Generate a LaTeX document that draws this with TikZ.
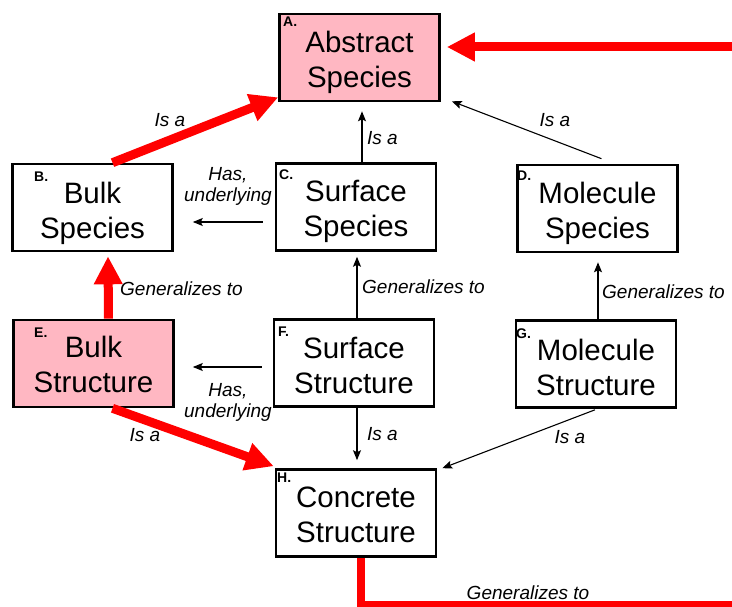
\documentclass[tikz,border=0pt]{standalone}
\usepackage{fontspec}
\setmainfont{Liberation Sans}
\usetikzlibrary{arrows.meta}
\definecolor{pinkc}{RGB}{255,183,194}
\definecolor{redc}{RGB}{255,0,0}
% two centred lines; the first argument pushes them down by half its value
\newcommand\twolines[3]{\raisebox{0pt}[\dimexpr\height+#1\relax]{%
  \begin{tabular}{@{}c@{}}#2\\#3\end{tabular}}}
\begin{document}
\begin{tikzpicture}[x=1pt,y=-1pt,
  box/.style={draw=black, line width=2.6pt, minimum width=160pt, minimum height=87pt,
    inner sep=0pt, font=\fontsize{29.5}{35}\selectfont},
  pinkbox/.style={box, fill=pinkc},
  tag/.style={font=\fontsize{14}{14}\selectfont\bfseries, inner sep=0pt, anchor=west},
  lbl/.style={font=\fontsize{19}{21}\selectfont\itshape, inner sep=0pt, align=center},
  thinarrow/.style={draw=black, line width=1.1pt, -{Stealth[length=10pt,width=8pt,inset=2pt]}},
  redarrow/.style={draw=redc, line width=9pt, -{Triangle[length=28pt,width=27pt]}},
  redline/.style={draw=redc, line width=8.5pt},
]
\useasboundingbox (0,0) rectangle (732,607);
\clip (0,0) rectangle (732,607);

% concept boxes
\node[pinkbox] (A) at (359.5,57.5) {\twolines{11pt}{Abstract}{Species}};
\node[box]     (B) at (92.5,207.5) {\twolines{14pt}{Bulk}{Species}};
\node[box]     (C) at (356,207)    {\twolines{10pt}{Surface}{Species}};
\node[box]     (D) at (597.5,208.5){\twolines{12pt}{Molecule}{Species}};
\node[pinkbox] (E) at (93.5,363.5) {\twolines{8pt}{Bulk}{Structure}};
\node[box]     (F) at (354,363)    {\twolines{11pt}{Surface}{Structure}};
\node[box]     (G) at (596,364)    {\twolines{14pt}{Molecule}{Structure}};
\node[box]     (H) at (356,513)    {\twolines{10pt}{Concrete}{Structure}};

% corner letters
\node[tag] (tA) at (283,22)  {A.};
\node[tag] (tB) at (34,177)  {B.};
\node[tag] (tC) at (279,175) {C.};
\node[tag] (tD) at (517,176) {D.};
\node[tag] (tE) at (34,333)  {E.};
\node[tag] (tF) at (278,332) {F.};
\node[tag] (tG) at (516,334) {G.};
\node[tag] (tH) at (277,478) {H.};

% free ends on the right-hand side
\coordinate (rin)  at (760,47);
\coordinate (hout) at (760,605);

% red links
\draw[redarrow] ([xshift=20pt]B.north) -- ([yshift=5pt]A.south west);
\draw[redarrow] (rin) -- ([shift={(6pt,10.5pt)}]A.east);
\draw[redarrow] ([xshift=15pt]E.north) -- ([shift={(15.5pt,-4pt)}]B.south);
\draw[redarrow] ([xshift=19pt]E.south) -- ([shift={(-1pt,2pt)}]H.north west);
\draw[redline] ([xshift=5pt]H.south) |- (hout);

% black links
\draw[thinarrow] ([xshift=6pt]C.north) -- ([xshift=2.5pt,yshift=-9pt]A.south);
\draw[thinarrow] ([shift={(4pt,5pt)}]D.north) -- ([shift={(11pt,1pt)}]A.south east);
\draw[thinarrow] ([shift={(-12pt,-15pt)}]C.west) -- ([shift={(19pt,-14.5pt)}]B.east);
\draw[thinarrow] ([xshift=3pt]F.north) -- ([shift={(1pt,-5pt)}]C.south);
\draw[thinarrow] ([xshift=2pt]G.north) -- ([shift={(0.5pt,-9pt)}]D.south);
\draw[thinarrow] ([shift={(-11pt,-4pt)}]F.west) -- ([shift={(18pt,-3.5pt)}]E.east);
\draw[thinarrow] ([xshift=3pt]F.south) -- ([shift={(1pt,8pt)}]H.north);
\draw[thinarrow] ([shift={(-1pt,-1pt)}]G.south) -- ([shift={(5pt,0pt)}]H.north east);

% link labels
\node[lbl] (l1) at (170,120) {Is a};
\node[lbl, anchor=west] (l2) at (367,138) {Is a};
\node[lbl] (l3) at (555,120) {Is a};
\node[lbl] (l4) at (228,186) {Has,\\underlying};
\node[lbl, anchor=west] (l5) at (120,289) {Generalizes to};
\node[lbl, anchor=west] (l6) at (362,287) {Generalizes to};
\node[lbl, anchor=west] (l7) at (602,292) {Generalizes to};
\node[lbl] (l8) at (228,402) {Has,\\underlying};
\node[lbl] (l9) at (145,435) {Is a};
\node[lbl, anchor=west] (l10) at (367,434) {Is a};
\node[lbl] (l11) at (570,437) {Is a};
\node[lbl] (l12) at (528,593) {Generalizes to};
\end{tikzpicture}
\end{document}
